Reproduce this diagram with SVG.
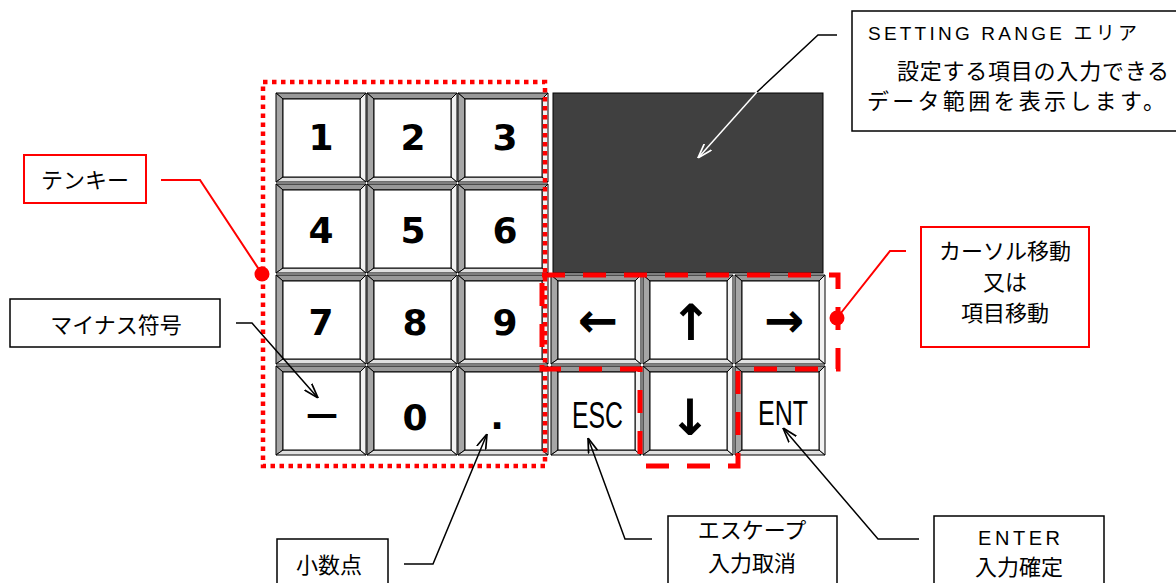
<svg xmlns="http://www.w3.org/2000/svg" xmlns:xlink="http://www.w3.org/1999/xlink" width="1176" height="583" viewBox="0 0 1176 583">
<style>
.kb{stroke:#000;stroke-width:1;stroke-linejoin:miter}
.t{fill:#999}.l{fill:#a6a6a6}.b{fill:#e0e0e0}.r{fill:#f2f2f2}.f{fill:#fff}
.num{font-family:"DejaVu Sans",sans-serif;font-weight:bold;text-anchor:middle;fill:#000}
.cond{font-family:"Liberation Sans",sans-serif;fill:#000}
.lbl{font-family:"Liberation Sans","Noto Sans CJK JP",sans-serif;fill:#000}
.mid{text-anchor:middle}
.box{fill:#fff;stroke:#000;stroke-width:1.5}
.rbox{fill:#fff;stroke:#f00;stroke-width:2}
.con{fill:none;stroke:#000;stroke-width:1.5}
.rcon{fill:none;stroke:#f00;stroke-width:2}
</style>
<defs>
<g id="k">
<polygon class="kb t" points="0,0 90,0 84,6 7,6"/>
<polygon class="kb l" points="0,0 7,6 7,84 0,89"/>
<polygon class="kb b" points="0,89 7,84 84,84 90,89"/>
<polygon class="kb r" points="90,0 90,89 84,84 84,6"/>
<rect class="kb f" x="7" y="6" width="77" height="78"/>
</g>
<marker id="ah" viewBox="0 0 14 10" refX="14" refY="5" markerUnits="userSpaceOnUse" markerWidth="15" markerHeight="11" orient="auto">
<path d="M0,0.5 L14,5 L0,9.5" fill="none" stroke="#000" stroke-width="1.6"/>
</marker>
<marker id="ahw" viewBox="0 0 14 10" refX="14" refY="5" markerUnits="userSpaceOnUse" markerWidth="15" markerHeight="11" orient="auto">
<path d="M0,0.5 L14,5 L0,9.5" fill="none" stroke="#fff" stroke-width="1.6"/>
</marker>
</defs>

<g id="key-1"><use href="#k" x="276" y="93"/><text class="num" x="321" y="150" font-size="36">1</text></g>
<g id="key-2"><use href="#k" x="367" y="93"/><text class="num" x="413" y="150" font-size="36">2</text></g>
<g id="key-3"><use href="#k" x="458" y="93"/><text class="num" x="505" y="150" font-size="36">3</text></g>
<g id="key-4"><use href="#k" x="276" y="184"/><text class="num" x="321" y="243" font-size="36">4</text></g>
<g id="key-5"><use href="#k" x="367" y="184"/><text class="num" x="413" y="243" font-size="36">5</text></g>
<g id="key-6"><use href="#k" x="458" y="184"/><text class="num" x="505" y="243" font-size="36">6</text></g>
<g id="key-7"><use href="#k" x="276" y="275"/><text class="num" x="321" y="335" font-size="36">7</text></g>
<g id="key-8"><use href="#k" x="367" y="275"/><text class="num" x="415" y="335" font-size="36">8</text></g>
<g id="key-9"><use href="#k" x="458" y="275"/><text class="num" x="505" y="335" font-size="36">9</text></g>
<g id="key-minus"><use href="#k" x="276" y="366"/><text class="num" x="322" y="425" font-size="32">—</text></g>
<g id="key-0"><use href="#k" x="367" y="366"/><text class="num" x="415" y="430" font-size="36">0</text></g>
<g id="key-dot"><use href="#k" x="458" y="366"/><text class="num" x="497" y="429" font-size="36">.</text></g>

<g id="key-left"><use href="#k" x="551" y="275"/><text class="num" x="598" y="337" font-size="48">←</text></g>
<g id="key-up"><use href="#k" x="643" y="275"/><text class="num" x="691" y="340" font-size="50">↑</text></g>
<g id="key-right"><use href="#k" x="735" y="275"/><text class="num" x="784" y="337" font-size="48">→</text></g>
<g id="key-esc"><use href="#k" x="551" y="366"/><text class="cond" x="572" y="428" font-size="36" textLength="51" lengthAdjust="spacingAndGlyphs">ESC</text></g>
<g id="key-down"><use href="#k" x="643" y="366"/><text class="num" x="690" y="435" font-size="50">↓</text></g>
<g id="key-ent"><use href="#k" x="735" y="366"/><text class="cond" x="758" y="425" font-size="35" textLength="50" lengthAdjust="spacingAndGlyphs">ENT</text></g>

<g id="setting-display"><rect x="553" y="93" width="270" height="180" fill="#404040" stroke="#000" stroke-width="1"/></g>

<g id="tenkey-frame"><rect x="263" y="82" width="282" height="384" fill="none" stroke="#f00" stroke-width="4.5" stroke-dasharray="4.5 4.5"/></g>
<g id="cursor-frame"><polygon points="542,275 838,275 838,369 738,369 738,466 640,466 640,369 542,369" fill="none" stroke="#f00" stroke-width="5" stroke-dasharray="23 18"/></g>

<g id="connectors">
<polyline class="rcon" points="161,180 200,180 262,274"/>
<circle cx="262" cy="274" r="7.5" fill="#f00"/>
<polyline class="rcon" points="906,251 890,251 837,318"/>
<circle cx="837" cy="318" r="7.5" fill="#f00"/>
<polyline class="con" points="236,323 252,323 318,398" marker-end="url(#ah)"/>
<polyline class="con" points="404,564 433,564 487,434" marker-end="url(#ah)"/>
<polyline class="con" points="652,539 625,539 588,438" marker-end="url(#ah)"/>
<polyline class="con" points="919,539 878,539 783,428" marker-end="url(#ah)"/>
<polyline class="con" points="837,35 818,35 757,92"/>
<line x1="757" y1="92" x2="698" y2="158" stroke="#fff" stroke-width="1.5" marker-end="url(#ahw)"/>
</g>

<g id="note-setting">
<rect class="box" x="852" y="11" width="330" height="120"/>
<text class="lbl" x="868" y="40" font-size="19" textLength="269" lengthAdjust="spacing">SETTING RANGE エリア</text>
<text class="lbl" x="897" y="79" font-size="22" textLength="272" lengthAdjust="spacing">設定する項目の入力できる</text>
<text class="lbl" x="867" y="109" font-size="22" textLength="298" lengthAdjust="spacing">データ範囲を表示します。</text>
</g>
<g id="note-tenkey"><rect class="rbox" x="24" y="155" width="122" height="48"/><text class="lbl mid" x="85" y="188" font-size="22">テンキー</text></g>
<g id="note-minus"><rect class="box" x="10" y="299" width="210" height="48"/><text class="lbl mid" x="116" y="333" font-size="22">マイナス符号</text></g>
<g id="note-cursor"><rect class="rbox" x="921" y="227" width="168" height="120"/>
<text class="lbl mid" x="1005" y="259" font-size="22">カーソル移動</text>
<text class="lbl mid" x="1005" y="290" font-size="22">又は</text>
<text class="lbl mid" x="1005" y="321" font-size="22">項目移動</text></g>
<g id="note-decimal"><rect class="box" x="277" y="539" width="111" height="60"/><text class="lbl mid" x="329" y="573" font-size="22">小数点</text></g>
<g id="note-esc"><rect class="box" x="668" y="516" width="169" height="80"/>
<text class="lbl mid" x="752" y="538" font-size="22">エスケープ</text>
<text class="lbl mid" x="752" y="571" font-size="22">入力取消</text></g>
<g id="note-enter"><rect class="box" x="934" y="516" width="170" height="80"/>
<text class="lbl mid" x="1019" y="545" font-size="20" textLength="82" lengthAdjust="spacing">ENTER</text>
<text class="lbl mid" x="1019" y="575" font-size="22">入力確定</text></g>
</svg>
